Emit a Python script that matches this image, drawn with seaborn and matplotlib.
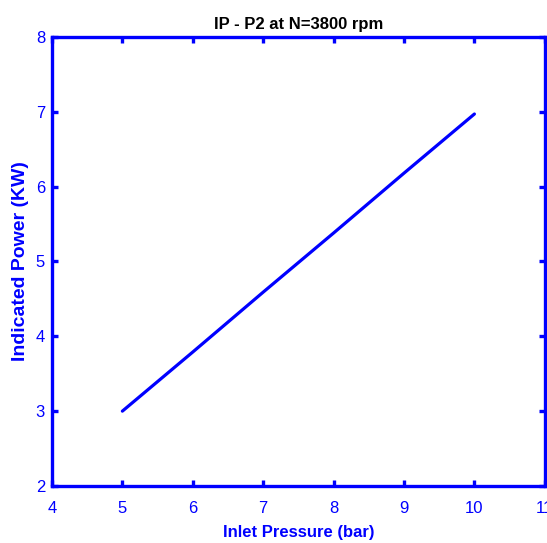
import pandas as pd
import seaborn as sns
import matplotlib
import matplotlib.pyplot as plt

matplotlib.use("Agg")

# Data
inlet_pressure = [5, 6, 7, 8, 9, 10]
indicated_power = [3.00, 3.79, 4.59, 5.38, 6.18, 6.97]

BLUE = "#0000ff"

df = pd.DataFrame({"Inlet Pressure (bar)": inlet_pressure,
                   "Indicated Power (KW)": indicated_power})

sns.set_theme(style="white")
plt.rcParams["font.family"] = ["Liberation Sans", "DejaVu Sans"]

fig = plt.figure(figsize=(5.47, 5.43), dpi=100)
ax = fig.add_axes([0.095, 0.105, 0.901, 0.827])

sns.lineplot(data=df, x="Inlet Pressure (bar)", y="Indicated Power (KW)",
             ax=ax, color=BLUE, linewidth=2.3)

ax.set_xlim(4, 11)
ax.set_ylim(2, 8)
ax.set_xticks(range(4, 12))
ax.set_yticks(range(2, 9))

for s in ax.spines.values():
    s.set_color(BLUE)
    s.set_linewidth(2.4)

ax.tick_params(direction="in", length=4, width=2.4, color=BLUE,
               labelcolor=BLUE, labelsize=12,
               top=True, right=True, bottom=True, left=True)
ax.tick_params(axis="x", pad=11)
ax.tick_params(axis="y", pad=5)

ax.set_xlabel("Inlet Pressure (bar)", color=BLUE, fontweight="bold",
              fontsize=12, labelpad=6)
ax.set_ylabel("Indicated Power (KW)", color=BLUE, fontweight="bold",
              fontsize=14, labelpad=5)
ax.set_title("IP - P2 at N=3800 rpm", color="black", fontweight="bold",
             fontsize=12, pad=6)

fig.savefig("out.png", dpi=100)
plt.close(fig)
